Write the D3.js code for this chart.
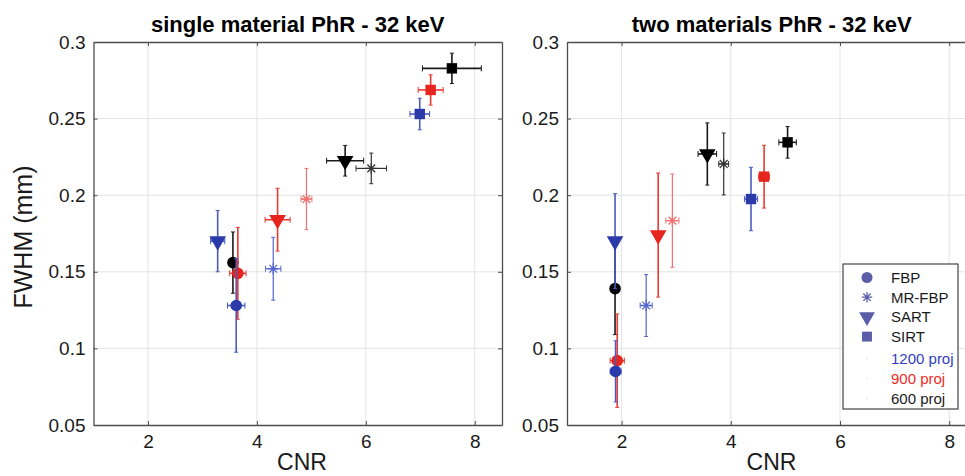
<!DOCTYPE html>
<html>
<head>
<meta charset="utf-8">
<script src="https://cdn.jsdelivr.net/npm/d3@7"></script>
<style>
  body { margin: 0; background: #fff; }
  text { font-family: "Liberation Sans", Arial, sans-serif; }
</style>
</head>
<body>
<script>
// order of every series array: FBP 1200/900/600, MR-FBP 1200/900/600, SART ..., SIRT ...
const methods = ["FBP", "MR-FBP", "SART", "SIRT"];
const projections = ["1200 proj", "900 proj", "600 proj"];
const xTicks = [2, 4, 6, 8];
const yTicks = [0.05, 0.1, 0.15, 0.2, 0.25, 0.3];

const singleCnr     = [3.62, 3.65, 3.56,  4.30, 4.91, 6.10,  3.28, 4.38, 5.62,  6.99, 7.19, 7.58];
const singleCnrErr  = [0.16, 0.15, 0.02,  0.14, 0.10, 0.28,  0.13, 0.23, 0.34,  0.18, 0.23, 0.54];
const singleFwhm    = [0.128, 0.149, 0.156,  0.152, 0.1975, 0.2175,  0.170, 0.184, 0.2225,  0.253, 0.2687, 0.2828];
const singleFwhmErr = [0.0305, 0.030, 0.020,  0.0205, 0.020, 0.010,  0.020, 0.0205, 0.010,  0.0103, 0.0099, 0.0099];

const twoCnr     = [1.89, 1.92, 1.88,  2.45, 2.93, 3.87,  1.88, 2.67, 3.57,  4.37, 4.61, 5.04];
const twoCnrErr  = [0.10, 0.13, 0.02,  0.11, 0.12, 0.09,  0.04, 0.05, 0.17,  0.12, 0.10, 0.16];
const twoFwhm    = [0.085, 0.092, 0.139,  0.128, 0.1834, 0.2204,  0.170, 0.174, 0.2269,  0.1975, 0.2121, 0.2345];
const twoFwhmErr = [0.020, 0.0305, 0.030,  0.0202, 0.0305, 0.0202,  0.031, 0.0405, 0.0203,  0.0207, 0.0205, 0.0103];

const markColor = ["#2a3aa8", "#e6251e", "#000000"];
const barColor  = ["#4a5ac0", "#ea3a33", "#1a1a1a"];
const starColor = ["#5566cc", "#f07070", "#333333"];
const legendMarkColor = "#5a5ea8";

function buildRows(cnr, cnrErr, fwhm, fwhmErr){
    const rows = [];
    for(let m=0; m<methods.length; m++){
        for(let p=projections.length-1; p>=0; p--){
            const i = m*3 + p;
            rows.push({method: methods[m], proj: p, x: cnr[i], xe: cnrErr[i], y: fwhm[i], ye: fwhmErr[i]});
        }
    }
    return rows;
}

function asteriskPath(r){
    const p = d3.path();
    const d = r*0.7071;
    p.moveTo(-r,0); p.lineTo(r,0);
    p.moveTo(0,-r); p.lineTo(0,r);
    p.moveTo(-d,-d); p.lineTo(d,d);
    p.moveTo(-d,d); p.lineTo(d,-d);
    return p.toString();
}

function drawMarker(g, method, color, scale){
    const s = scale || 1;
    if(method === "FBP"){
        g.append("circle").attr("r", 5.8*s).attr("fill", color);
    } else if(method === "MR-FBP"){
        g.append("path").attr("d", asteriskPath(5.5*s)).attr("stroke", color).attr("stroke-width", 1.3).attr("fill", "none");
    } else if(method === "SART"){
        g.append("path").attr("d", d3.symbol(d3.symbolTriangle, 120*s*s)()).attr("transform", "rotate(180)").attr("fill", color);
    } else {
        g.append("rect").attr("x", -5.2*s).attr("y", -5.2*s).attr("width", 10.4*s).attr("height", 10.4*s).attr("fill", color);
    }
}

const svg = d3.select("body").append("svg")
    .attr("width", 965)
    .attr("height", 476);

function drawPanel(left, right, title, rows, withLegend, xLabelX){
    const top = 42, bottom = 425;
    const x = d3.scaleLinear().domain([1, 8.5]).range([left, right]);
    const y = d3.scaleLinear().domain([0.05, 0.3]).range([bottom, top]);

    const panel = svg.append("g");

    // grid
    panel.selectAll(".vgrid").data(xTicks).enter().append("line")
        .attr("x1", d => x(d)).attr("x2", d => x(d))
        .attr("y1", top).attr("y2", bottom)
        .attr("stroke", "#e3e3e3").attr("stroke-width", 1);
    panel.selectAll(".hgrid").data(yTicks.slice(1, -1)).enter().append("line")
        .attr("x1", left).attr("x2", right)
        .attr("y1", d => y(d)).attr("y2", d => y(d))
        .attr("stroke", "#e3e3e3").attr("stroke-width", 1);

    // axes (ticks inward, box around)
    const axisColor = "#4d4d4d";
    const gb = panel.append("g").attr("transform", "translate(0," + bottom + ")")
        .call(d3.axisBottom(x).tickValues(xTicks).tickSizeInner(-4).tickSizeOuter(0).tickPadding(10).tickFormat(d3.format("d")));
    const gt = panel.append("g").attr("transform", "translate(0," + top + ")")
        .call(d3.axisTop(x).tickValues(xTicks).tickSizeInner(-4).tickSizeOuter(0).tickFormat(""));
    const gl = panel.append("g").attr("transform", "translate(" + left + ",0)")
        .call(d3.axisLeft(y).tickValues(yTicks).tickSizeInner(-4).tickSizeOuter(0).tickPadding(8).tickFormat(d => d3.format("")(+d.toFixed(2))));
    const gr = panel.append("g").attr("transform", "translate(" + right + ",0)")
        .call(d3.axisRight(y).tickValues(yTicks).tickSizeInner(-4).tickSizeOuter(0).tickFormat(""));
    [gb, gt, gl, gr].forEach(g => {
        g.select(".domain").attr("stroke", axisColor).attr("stroke-width", 1.3);
        g.selectAll(".tick line").attr("stroke", axisColor);
        g.selectAll(".tick text").attr("fill", "#1a1a1a").style("font-size", "19px")
            .style("font-family", "'Liberation Sans', Arial, sans-serif");
    });

    // error bars + markers
    rows.forEach(d => {
        const cx = x(d.x), cy = y(d.y);
        const isStar = d.method === "MR-FBP";
        const bc = isStar ? starColor[d.proj] : barColor[d.proj];
        const g = panel.append("g");
        const bw = isStar ? 1.2 : 1.6;
        g.append("line").attr("x1", cx).attr("x2", cx).attr("y1", y(d.y - d.ye)).attr("y2", y(d.y + d.ye))
            .attr("stroke", bc).attr("stroke-width", bw);
        g.append("line").attr("x1", x(d.x - d.xe)).attr("x2", x(d.x + d.xe)).attr("y1", cy).attr("y2", cy)
            .attr("stroke", bc).attr("stroke-width", bw);
        [d.x - d.xe, d.x + d.xe].forEach(v => {
            g.append("line").attr("x1", x(v)).attr("x2", x(v)).attr("y1", cy - 3).attr("y2", cy + 3)
                .attr("stroke", bc).attr("stroke-width", 1);
        });
        [d.y - d.ye, d.y + d.ye].forEach(v => {
            g.append("line").attr("x1", cx - 2).attr("x2", cx + 2).attr("y1", y(v)).attr("y2", y(v))
                .attr("stroke", bc).attr("stroke-width", 1);
        });
        const mg = panel.append("g").attr("transform", "translate(" + cx + "," + cy + ")");
        drawMarker(mg, d.method, isStar ? starColor[d.proj] : markColor[d.proj]);
    });

    // title and labels
    svg.append("text")
        .attr("x", (left + right) / 2).attr("y", 32)
        .attr("text-anchor", "middle")
        .style("font-size", "22px").style("font-weight", "bold")
        .text(title);
    svg.append("text")
        .attr("x", xLabelX).attr("y", 470)
        .attr("text-anchor", "middle")
        .style("font-size", "23px").attr("fill", "#1a1a1a")
        .text("CNR");

    if(withLegend){
        const lx = 843, ly = 264, lw = 115, lh = 145;
        const leg = svg.append("g");
        leg.append("rect").attr("x", lx).attr("y", ly).attr("width", lw).attr("height", lh)
            .attr("fill", "#fff").attr("stroke", "#444").attr("stroke-width", 1.2);
        methods.forEach((m, i) => {
            const ry = 277.5 + i*19.7;
            const mg = leg.append("g").attr("transform", "translate(" + 867 + "," + ry + ")");
            drawMarker(mg, m, legendMarkColor, 0.95);
            leg.append("text").attr("x", 891).attr("y", ry + 5.5).style("font-size", "15px").attr("fill", "#1a1a1a").text(m);
        });
        const projText = ["#2f3fc0", "#ee2b24", "#1a1a1a"];
        projections.forEach((p, i) => {
            const ry = 358.5 + i*20;
            leg.append("circle").attr("cx", 867).attr("cy", ry).attr("r", 0.8).attr("fill", "#ddd");
            leg.append("text").attr("x", 891).attr("y", ry + 5.5).style("font-size", "15px").attr("fill", projText[i]).text(p);
        });
    }
}

drawPanel(93.5, 502, "single material PhR - 32 keV", buildRows(singleCnr, singleCnrErr, singleFwhm, singleFwhmErr), false, 302);
drawPanel(567, 976.5, "two materials PhR - 32 keV", buildRows(twoCnr, twoCnrErr, twoFwhm, twoFwhmErr), true, 771.5);

svg.append("text")
    .attr("transform", "translate(32,237) rotate(-90)")
    .attr("text-anchor", "middle")
    .style("font-size", "25px").attr("fill", "#1a1a1a")
    .text("FWHM (mm)");
</script>
</body>
</html>
